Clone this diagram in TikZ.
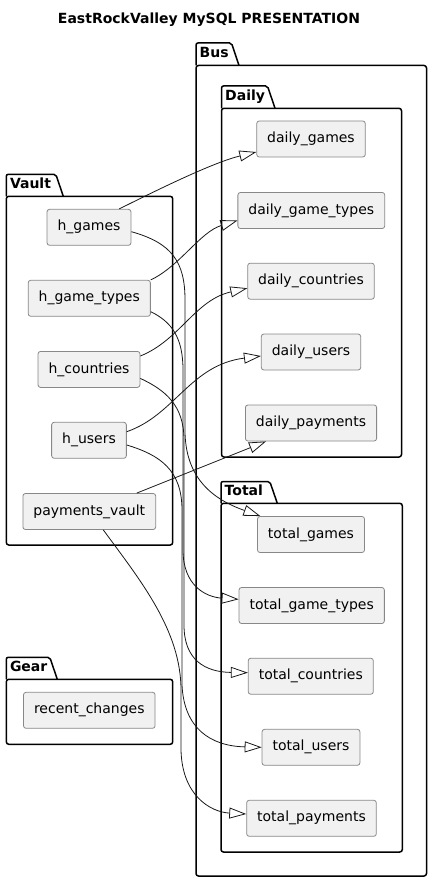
\documentclass[tikz,border=0pt]{standalone}
\usepackage{fontspec}
\setmainfont{DejaVu Sans}
\usetikzlibrary{arrows.meta}

\definecolor{boxfill}{HTML}{F1F1F1}
\definecolor{boxline}{HTML}{888888}
\definecolor{edgeline}{HTML}{181818}

\begin{document}
\begin{tikzpicture}[x=1pt, y=-1pt,
    tbl/.style={draw=boxline, fill=boxfill, rounded corners=2.5pt, line width=0.8pt,
        minimum height=36pt, inner xsep=10.5pt, font=\fontsize{14}{16}\selectfont},
    pkg/.style={line width=1.5pt, black},
    pkglbl/.style={font=\fontsize{14}{16}\selectfont\bfseries, inner sep=0pt},
    ext/.style={draw=edgeline, line width=0.8pt, -{Triangle[open, length=17pt, width=11pt]}}]
    \useasboundingbox (0,0) rectangle (432,882);
    % Title
    \node[font=\fontsize{14}{16}\selectfont\bfseries, anchor=base] (title) at (209,23.3) {EastRockValley MySQL PRESENTATION};

    % Packages: left/tab top/tab bottom/tab right/right/bottom/name
    \foreach \px/\ptop/\pbase/\ptab/\pright/\pbottom/\pname in
        {196/43/65.5/239/426.5/876/Bus,
         221.5/86/108.3/275/401.5/457/Daily,
         221/481.5/503.3/277.3/402.3/852/Total,
         6.3/174.3/196.3/63.3/172.7/545/Vault,
         6.3/657.3/679.3/57.3/172.7/744.3/Gear}
    {
        \draw[pkg, rounded corners=2pt] (\px,\pbase) -- (\px,\ptop) -- (\ptab-7.5,\ptop) -- (\ptab,\pbase);
        \draw[pkg, rounded corners=2.5pt] (\px,\pbase) rectangle (\pright,\pbottom);
        \node[pkglbl, anchor=base west] at (\px+3.5,\pbase-8.2) {\pname};
    }

    % Vault tables
    \node[tbl] (hgames) at (89,227.3) {h\_games};
    \node[tbl] (hgametypes) at (89.3,298.3) {h\_game\_types};
    \node[tbl] (hcountries) at (89,369.4) {h\_countries};
    \node[tbl] (husers) at (89,440.3) {h\_users};
    \node[tbl] (paymentsvault) at (89.3,511.5) {payments\_vault};
    % Gear tables
    \node[tbl] (recentchanges) at (89.3,710.3) {recent\_changes};
    % Daily tables
    \node[tbl] (dgames) at (311,139) {daily\_games};
    \node[tbl] (dgametypes) at (311.3,210.5) {daily\_game\_types};
    \node[tbl] (dcountries) at (311,281.2) {daily\_countries};
    \node[tbl] (dusers) at (311,352) {daily\_users};
    \node[tbl] (dpayments) at (311,423) {daily\_payments};
    % Total tables
    \node[tbl] (tgames) at (311,534.5) {total\_games};
    \node[tbl] (tgametypes) at (311.7,605.5) {total\_game\_types};
    \node[tbl] (tcountries) at (310.8,676.2) {total\_countries};
    \node[tbl] (tusers) at (311,747.3) {total\_users};
    \node[tbl] (tpayments) at (311.5,818.3) {total\_payments};

    % Vault -> Daily
    \draw[ext] ([xshift=30.3pt]hgames.north) .. controls (165,186) and (215,162) .. ([yshift=-13pt]dgames.west);
    \draw[ext] (hgametypes.north east) .. controls (180,266) and (200,232) .. ([yshift=-10pt]dgametypes.west);
    \draw[ext] ([yshift=13.4pt]hcountries.east) .. controls (180,340) and (195,300) .. ([yshift=-7pt]dcountries.west);
    \draw[ext] ([yshift=8.6pt]husers.east) .. controls (175,415) and (190,365) .. ([yshift=-4pt]dusers.west);
    \draw[ext] ([xshift=47.4pt]paymentsvault.north) -- ([xshift=21pt]dpayments.south west);

    % Vault -> Total
    \draw[ext] ([yshift=-4.4pt]hgames.east) .. controls (172,243) and (185,262) .. (185,300)
        -- (185,430) .. controls (185,480) and (215,500) .. ([xshift=3.3pt]tgames.north west);
    \draw[ext] ([yshift=-13.4pt]hgametypes.east) .. controls (172,322) and (183,338) .. (183,370)
        -- (183,550) .. controls (183,585) and (205,597) .. ([yshift=6.2pt]tgametypes.west);
    \draw[ext] ([yshift=-9pt]hcountries.east) .. controls (165,390) and (184,405) .. (184,440)
        -- (184,625) .. controls (184,660) and (205,672) .. ([yshift=3.5pt]tcountries.west);
    \draw[ext] ([yshift=-4.7pt]husers.east) .. controls (160,455) and (182,470) .. (182,510)
        -- (182,685) .. controls (184,728) and (210,746) .. (tusers.west);
    \draw[ext] ([xshift=14pt]paymentsvault.south) .. controls (140,580) and (181,630) .. (181,690)
        -- (181,750) .. controls (182,795) and (210,812) .. ([yshift=4.3pt]tpayments.west);
\end{tikzpicture}
\end{document}
